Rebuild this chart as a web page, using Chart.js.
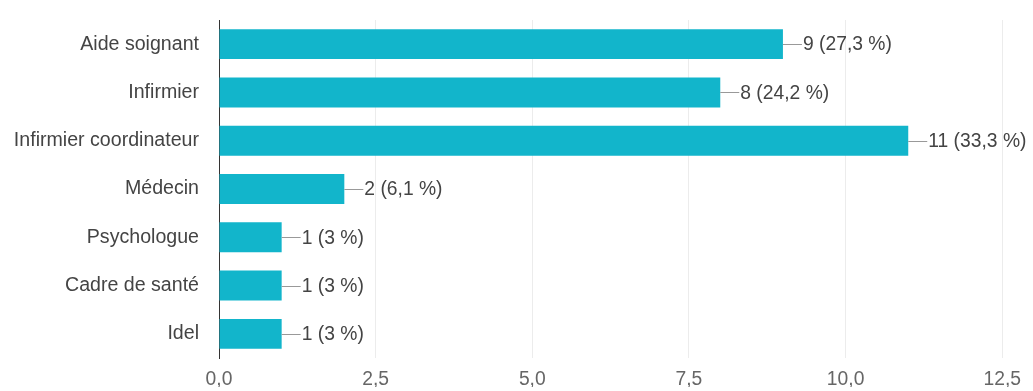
<!DOCTYPE html>
<html>
<head>
<meta charset="utf-8">
<script src="https://cdn.jsdelivr.net/npm/chart.js@4.4.0/dist/chart.umd.min.js"></script>
<style>
  html, body { margin: 0; padding: 0; background: #fff; }
  #wrap { width: 1033px; height: 391px; position: relative; }
</style>
</head>
<body>
<div id="wrap"><canvas id="chart"></canvas></div>
<script>
"use strict";

// data
const categories = ['Aide soignant', 'Infirmier', 'Infirmier coordinateur', 'Médecin', 'Psychologue', 'Cadre de santé', 'Idel'];
const counts = [9, 8, 11, 2, 1, 1, 1];
const percentLabels = ['27,3 %', '24,2 %', '33,3 %', '6,1 %', '3 %', '3 %', '3 %'];
const xTicks = [0, 2.5, 5, 7.5, 10, 12.5];

const barColor = '#12b5cb';
const fontFamily = '"Liberation Sans", Arial, sans-serif';

// line + "n (p %)" next to each bar end
const valueLabels = {
  id: 'valueLabels',
  afterDatasetsDraw(chart) {
    const ctx = chart.ctx;
    const meta = chart.getDatasetMeta(0);
    ctx.save();
    ctx.font = '19.3px ' + fontFamily;
    ctx.textBaseline = 'middle';
    ctx.fillStyle = '#444';
    meta.data.forEach((bar, i) => {
      const x = bar.x;
      const y = bar.y;
      ctx.strokeStyle = '#999';
      ctx.lineWidth = 1;
      ctx.beginPath();
      ctx.moveTo(x, Math.round(y) + 0.5);
      ctx.lineTo(x + 19, Math.round(y) + 0.5);
      ctx.stroke();
      ctx.fillText(counts[i] + ' (' + percentLabels[i] + ')', x + 20, y + 1);
    });
    ctx.restore();
  }
};

let ctx = document.getElementById('chart');

let chart = new Chart(ctx, {
  type: 'bar',
  data: {
    labels: categories,
    datasets: [{
      data: counts,
      backgroundColor: barColor,
      borderWidth: 0,
      categoryPercentage: 1,
      barPercentage: 0.62
    }]
  },
  options: {
    indexAxis: 'y',
    responsive: true,
    maintainAspectRatio: false,
    animation: false,
    layout: { padding: { top: 20, right: 25, bottom: 4, left: 0 } },
    plugins: {
      legend: { display: false },
      tooltip: { enabled: false }
    },
    scales: {
      x: {
        min: 0,
        max: 12.5,
        afterBuildTicks(scale) {
          scale.ticks = xTicks.map(v => ({ value: v }));
        },
        afterFit(scale) {
          scale.height = 29;
          scale.paddingTop = 0;
          scale.paddingBottom = 0;
        },
        ticks: {
          color: '#666',
          font: { family: fontFamily, size: 19.3, lineHeight: 1 },
          padding: 12,
          callback: v => v.toFixed(1).replace('.', ',')
        },
        grid: { color: '#ececec', drawTicks: false },
        border: { display: false }
      },
      y: {
        afterFit(scale) {
          scale.width = 219;
          // labels sit inside the rows, no extra room needed above/below
          scale.paddingTop = 0;
          scale.paddingBottom = 0;
        },
        ticks: {
          color: '#444',
          font: { family: fontFamily, size: 19.6 },
          padding: 20
        },
        grid: { display: false, drawTicks: false },
        border: { display: true, color: '#333', width: 1 }
      }
    }
  },
  plugins: [valueLabels]
});
</script>
</body>
</html>
